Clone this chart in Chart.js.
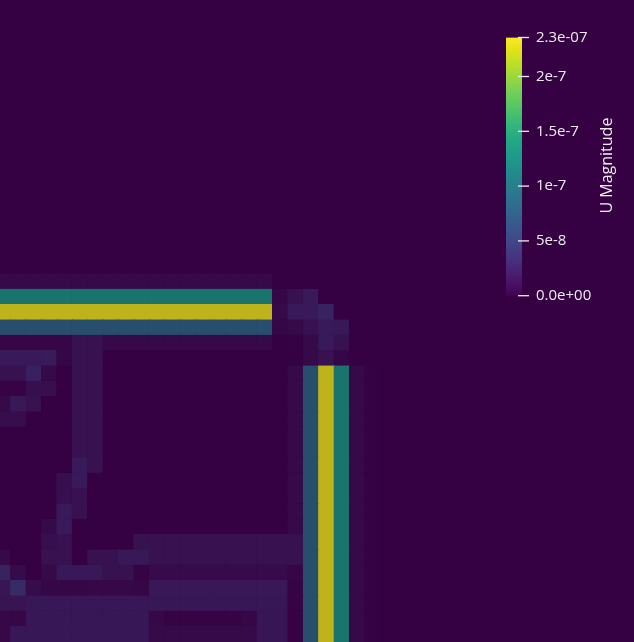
<!DOCTYPE html>
<html>
<head>
<meta charset="utf-8">
<script src="https://cdn.jsdelivr.net/npm/chart.js@4.4.1/dist/chart.umd.min.js"></script>
<style>
  html, body { margin: 0; padding: 0; overflow: hidden; background: #350142; }
  #wrap { position: relative; width: 634px; height: 642px; }
  #wrap canvas { position: absolute; left: 0; top: 0; }
</style>
</head>
<body>
<div id="wrap">
  <canvas id="heat" width="634" height="642"></canvas>
  <canvas id="cbar" width="634" height="642"></canvas>
</div>
<script>
// ---------------- DATA ----------------
// U Magnitude per cell, in units of 1e-7. Rows listed top -> bottom, columns left -> right.
const columnIndex = [0,1,2,3,4,5,6,7,8,9,10,11,12,13,14,15,16,17,18,19,20,21,22,23,24];

const uRow00 = [0.07,0.07,0.07,0.07,0.07,0.07,0.07,0.07,0.07,0.07,0.07,0.07,0.07,0.07,0.07,0.07,0.07,0.07,0,0,0,0,0,0,0];
const uRow01 = [1.22,1.22,1.22,1.22,1.22,1.22,1.22,1.22,1.22,1.22,1.22,1.22,1.22,1.22,1.22,1.22,1.22,1.22,0.05,0.14,0.21,0,0,0,0];
const uRow02 = [2.32,2.32,2.32,2.32,2.32,2.32,2.32,2.32,2.32,2.32,2.32,2.32,2.32,2.32,2.32,2.32,2.32,2.32,0.07,0.21,0.22,0.3,0,0,0];
const uRow03 = [0.75,0.75,0.75,0.75,0.75,0.75,0.75,0.75,0.75,0.75,0.75,0.75,0.75,0.75,0.75,0.75,0.75,0.75,0.05,0.07,0.14,0.21,0.2,0,0];
const uRow04 = [0.04,0.04,0.04,0.04,0.05,0.14,0.14,0.07,0.07,0.07,0.07,0.07,0.07,0.07,0.07,0.07,0.07,0.07,0,0.02,0.07,0.21,0.14,0,0];
const uRow05 = [0.21,0.21,0.21,0.23,0.05,0.14,0.14,0,0,0,0,0,0,0,0,0,0,0,0,0,0.07,0.14,0.05,0,0];
const uRow06 = [0.14,0.14,0.28,0.07,0,0.14,0.14,0,0,0,0,0,0,0,0,0,0,0,0,0.07,0.75,2.32,1.22,0.07,0.02];
const uRow07 = [0.03,0.03,0.12,0.12,0,0.14,0.14,0,0,0,0,0,0,0,0,0,0,0,0,0.07,0.75,2.32,1.22,0.07,0.02];
const uRow08 = [0.07,0.2,0.14,0,0,0.14,0.14,0,0,0,0,0,0,0,0,0,0,0,0,0.07,0.75,2.32,1.22,0.07,0.02];
const uRow09 = [0.1,0.1,0,0,0,0.14,0.14,0,0,0,0,0,0,0,0,0,0,0,0,0.07,0.75,2.32,1.22,0.07,0.02];
const uRow10 = [0,0,0,0,0,0.14,0.14,0,0,0,0,0,0,0,0,0,0,0,0,0.07,0.75,2.32,1.22,0.07,0.02];
const uRow11 = [0,0,0,0,0,0.14,0.14,0,0,0,0,0,0,0,0,0,0,0,0,0.07,0.75,2.32,1.22,0.07,0.02];
const uRow12 = [0,0,0,0,0,0.21,0.14,0,0,0,0,0,0,0,0,0,0,0,0,0.07,0.75,2.32,1.22,0.07,0.02];
const uRow13 = [0,0,0,0,0.12,0.21,0,0,0,0,0,0,0,0,0,0,0,0,0,0.07,0.75,2.32,1.22,0.07,0.02];
const uRow14 = [0,0,0,0,0.12,0.14,0,0,0,0,0,0,0,0,0,0,0,0,0,0.07,0.75,2.32,1.22,0.07,0.02];
const uRow15 = [0,0,0,0,0.21,0.14,0,0,0,0,0,0,0,0,0,0,0,0,0,0.07,0.75,2.32,1.22,0.07,0.02];
const uRow16 = [0,0,0,0.07,0.21,0,0,0,0,0,0,0,0,0,0,0,0,0,0,0.07,0.75,2.32,1.22,0.07,0.02];
const uRow17 = [0,0,0,0.12,0.14,0,0,0,0,0.14,0.14,0.14,0.14,0.14,0.14,0.14,0.14,0.14,0.14,0.14,0.75,2.32,1.22,0.07,0.02];
const uRow18 = [0.07,0,0,0.14,0.14,0,0.14,0.14,0.2,0.2,0.14,0.14,0.14,0.14,0.14,0.14,0.14,0.14,0.14,0.14,0.75,2.32,1.22,0.07,0.02];
const uRow19 = [0.3,0.08,0,0.07,0.2,0.2,0.2,0.14,0.14,0.03,0.08,0.08,0.08,0.08,0.08,0.08,0.08,0.08,0.08,0.04,0.75,2.32,1.22,0.07,0.02];
const uRow20 = [0.17,0.38,0.09,0.05,0.05,0.05,0.06,0.06,0.06,0.05,0.2,0.2,0.2,0.2,0.2,0.2,0.2,0.2,0.2,0.03,0.75,2.32,1.22,0.07,0.02];
const uRow21 = [0.16,0.16,0.19,0.19,0.19,0.19,0.19,0.19,0.19,0.19,0.19,0.19,0.19,0.19,0.19,0.19,0.19,0.19,0.19,0.03,0.75,2.32,1.22,0.07,0.02];
const uRow22 = [0.06,0.04,0.19,0.19,0.19,0.19,0.19,0.19,0.19,0.19,0.06,0.03,0.03,0.03,0.03,0.03,0.05,0.17,0.17,0.02,0.75,2.32,1.22,0.07,0.02];
const uRow23 = [0.06,0.19,0.19,0.19,0.19,0.19,0.19,0.19,0.19,0.19,0.07,0.07,0.07,0.07,0.07,0.07,0.07,0.18,0.18,0.02,0.75,2.32,1.22,0.07,0.02];

const uRowsTopToBottom = [uRow00,uRow01,uRow02,uRow03,uRow04,uRow05,uRow06,uRow07,uRow08,uRow09,uRow10,uRow11,
                          uRow12,uRow13,uRow14,uRow15,uRow16,uRow17,uRow18,uRow19,uRow20,uRow21,uRow22,uRow23];

// colour bar range (units of 1e-7) and its tick labels
const uRangeMax = 2.356;
const cbarTickValues = [0, 0.5, 1, 1.5, 2, 2.356];
const cbarTickLabels = ['0.0e+00', '5e-8', '1e-7', '1.5e-7', '2e-7', '2.3e-07'];
const cbarTitle = 'U Magnitude';

// ---------------- STYLE ----------------
const VIRIDIS = ['#440154','#471365','#482475','#463480','#414487','#3b528b','#355f8d','#2f6c8e','#2a788e','#25848e',
                 '#21918c','#1e9c89','#22a884','#2fb47c','#44bf70','#5ec962','#7ad151','#9bd93c','#bddf26','#dfe318','#fde725'];
const LIGHT = 0.78;   // shading of the rendered surface
const TEXT_COLOR = '#ededed';
const FONT = 'Open Sans';

function hexRgb(h) { return [parseInt(h.slice(1,3),16), parseInt(h.slice(3,5),16), parseInt(h.slice(5,7),16)]; }
const VIR_RGB = VIRIDIS.map(hexRgb);
function viridis(t) {
  t = Math.max(0, Math.min(1, t));
  const f = t * (VIR_RGB.length - 1);
  const i = Math.min(VIR_RGB.length - 2, Math.floor(f));
  const r = f - i;
  return VIR_RGB[i].map((c, k) => c + (VIR_RGB[i+1][k] - c) * r);
}
function cellColor(v) {
  const c = viridis(v / uRangeMax).map(x => Math.round(x * LIGHT));
  return `rgb(${c[0]},${c[1]},${c[2]})`;
}
const BG = cellColor(0);
document.body.style.background = BG;

// ---------------- HEATMAP ----------------
const CELL_W = 15.4, CELL_H = 15.333, OFFSET_X = 0.2013;
const heatDatasets = [];
for (let j = uRowsTopToBottom.length - 1; j >= 0; j--) {
  const row = uRowsTopToBottom[j];
  const colors = row.map(cellColor);
  heatDatasets.push({
    data: row.map((v, k) => ({ x: columnIndex[k], y: 1, u: v })),
    backgroundColor: colors,
    borderColor: colors,
    borderWidth: 0.01,
    borderSkipped: false,
    inflateAmount: 0.6,
    barPercentage: 1,
    categoryPercentage: 1
  });
}

const bgPlugin = {
  id: 'bg',
  beforeDraw(chart) {
    const c = chart.ctx;
    c.save();
    c.fillStyle = BG;
    c.fillRect(0, 0, chart.width, chart.height);
    c.restore();
  }
};

new Chart(document.getElementById('heat'), {
  type: 'bar',
  data: { datasets: heatDatasets },
  options: {
    responsive: false,
    devicePixelRatio: 1,
    animation: false,
    events: [],
    layout: { padding: 0 },
    plugins: { legend: { display: false }, tooltip: { enabled: false } },
    scales: {
      x: {
        type: 'linear', display: false, stacked: true, offset: false, grid: { offset: false },
        min: -OFFSET_X, max: -OFFSET_X + 634 / CELL_W,
        afterBuildTicks(scale) { scale.ticks = columnIndex.map(v => ({ value: v })); }
      },
      y: { type: 'linear', display: false, stacked: true, min: 0, max: 642 / CELL_H }
    }
  },
  plugins: [bgPlugin]
});

// ---------------- COLOUR BAR ----------------
const cbarDecor = {
  id: 'cbarDecor',
  afterDraw(chart) {
    const c = chart.ctx, s = chart.scales.y, ca = chart.chartArea;
    c.save();
    c.strokeStyle = TEXT_COLOR;
    c.lineWidth = 1.3;
    cbarTickValues.forEach(v => {
      const y = s.getPixelForValue(v);
      c.beginPath();
      c.moveTo(ca.right - 4, y);
      c.lineTo(ca.right + 7, y);
      c.stroke();
    });
    c.fillStyle = TEXT_COLOR;
    c.font = `16px "${FONT}"`;
    c.textAlign = 'center';
    c.textBaseline = 'middle';
    c.translate(ca.right + 85, (ca.top + ca.bottom) / 2 - 1);
    c.rotate(-Math.PI / 2);
    c.fillText(cbarTitle, 0, 0);
    c.restore();
  }
};

new Chart(document.getElementById('cbar'), {
  type: 'bar',
  data: {
    labels: [cbarTitle],
    datasets: [{
      data: [uRangeMax],
      backgroundColor(ctx) {
        const ca = ctx.chart.chartArea;
        if (!ca) return VIRIDIS[0];
        const g = ctx.chart.ctx.createLinearGradient(0, ca.bottom, 0, ca.top);
        VIRIDIS.forEach((col, i) => g.addColorStop(i / (VIRIDIS.length - 1), col));
        return g;
      },
      borderWidth: 0,
      barPercentage: 1,
      categoryPercentage: 1
    }]
  },
  options: {
    responsive: false,
    devicePixelRatio: 1,
    animation: false,
    events: [],
    layout: { padding: { left: 506, top: 37.5, bottom: 346.3, right: 22 } },
    plugins: { legend: { display: false }, tooltip: { enabled: false } },
    scales: {
      x: { display: false },
      y: {
        position: 'right',
        min: 0,
        max: uRangeMax,
        grid: { display: false, drawTicks: false },
        border: { display: false },
        afterBuildTicks(scale) { scale.ticks = cbarTickValues.map(v => ({ value: v })); },
        afterFit(scale) { scale.width = 90; },
        ticks: {
          padding: 14,
          autoSkip: false,
          color: TEXT_COLOR,
          font: { family: FONT, size: 15 },
          callback(value, index) { return cbarTickLabels[index]; }
        }
      }
    }
  },
  plugins: [cbarDecor]
});
</script>
</body>
</html>
